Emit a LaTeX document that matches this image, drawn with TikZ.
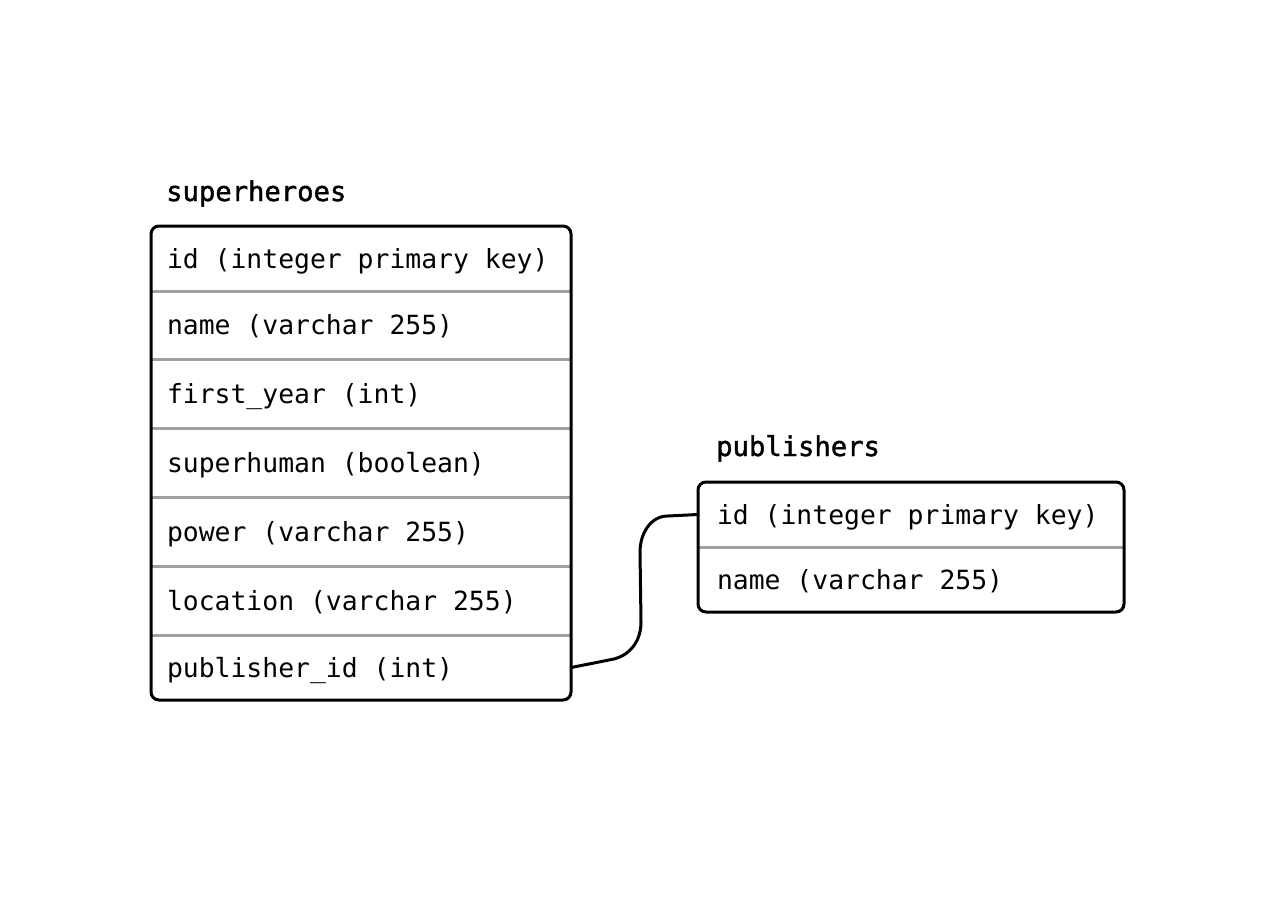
\documentclass[tikz,border=0pt]{standalone}
\usepackage{fontspec}
\newfontfamily\erfont{DejaVu Sans Mono}
\newfontfamily\ertitle[FakeBold=1.5]{DejaVu Sans Mono}
\newcommand\wsp{\hspace*{15.9pt}}
\definecolor{sepgray}{HTML}{A0A0A0}
\tikzset{
  tablebox/.style={draw=black, line width=3pt, rounded corners=8pt, inner sep=0pt},
  rowcell/.style={inner xsep=#1, inner ysep=0pt, text width=388pt, align=left,
    text height=25pt, text depth=6pt,
    font=\erfont\fontsize{26.4}{30}\selectfont, anchor=center},
  rowcell/.default=16pt,
  tabletitle/.style={anchor=base west, inner sep=0pt,
    font=\ertitle\fontsize{27.2}{30}\selectfont},
  sepline/.style={draw=sepgray, line width=3pt},
  relation/.style={draw=black, line width=3pt, line cap=round}
}
\begin{document}
\begin{tikzpicture}[x=1pt,y=-1pt]
\useasboundingbox (0,0) rectangle (1274,900);
% superheroes
\node[tabletitle] (shtitle) at (166,201) {superheroes};
\node[rowcell, minimum height=65pt] (sh1) at (361,258.5) {id\wsp(integer\wsp primary\wsp key)};
\node[rowcell, minimum height=68pt] (sh2) at (361,325) {name\wsp(varchar\wsp 255)};
\node[rowcell, minimum height=69pt] (sh3) at (361,393.5) {first\_year\wsp(int)};
\node[rowcell, minimum height=69pt] (sh4) at (361,462.5) {superhuman\wsp(boolean)};
\node[rowcell, minimum height=69pt] (sh5) at (361,531.5) {power\wsp(varchar\wsp 255)};
\node[rowcell, minimum height=69pt] (sh6) at (361,600.5) {location\wsp(varchar\wsp 255)};
\node[rowcell, minimum height=65pt] (sh7) at (361,667.5) {publisher\_id\wsp(int)};
\foreach \r in {1,...,6}{
  \draw[sepline] (sh\r.south west) -- (sh\r.south east);
}
\node[tablebox, minimum width=420pt, minimum height=474pt] (sh) at (361,463) {};
% publishers
\node[tabletitle] (pbtitle) at (716,456) {publishers};
\node[rowcell=19pt, minimum height=65pt] (pb1) at (911,514.5) {id\wsp(integer\wsp primary\wsp key)};
\node[rowcell=19pt, minimum height=65pt] (pb2) at (911,579.5) {name\wsp(varchar\wsp 255)};
\draw[sepline] (pb1.south west) -- (pb1.south east);
\node[tablebox, minimum width=426pt, minimum height=130pt] (pb) at (911,547) {};
% relation
\draw[relation] (sh7.east) -- (614,659) to[out=15,in=-90] (641,622) -- (640,552)
  to[out=90,in=180] (668,516) -- (pb1.west);
\end{tikzpicture}
\end{document}
